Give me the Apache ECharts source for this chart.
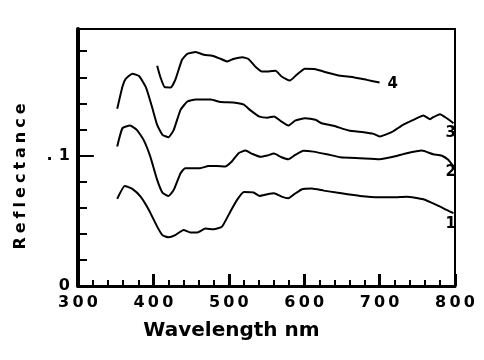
<!DOCTYPE html>
<html><head><meta charset="utf-8">
<script src="https://cdn.jsdelivr.net/npm/echarts@6/dist/echarts.min.js"></script>
<style>html,body{margin:0;padding:0;background:#fff}#c{width:484px;height:360px}</style>
</head><body><div id="c"></div>
<script>
const xTicks = [300, 400, 500, 600, 700, 800];
const curve1 = [[352,0.0668],[362,0.0767],[372,0.0744],[383,0.0685],[394,0.0583],[405,0.0455],[412,0.039],[420,0.0373],[429,0.039],[440,0.043],[449,0.041],[458,0.041],[469,0.044],[480,0.0435],[491,0.0455],[502,0.057],[511,0.066],[520,0.072],[533,0.0716],[541,0.069],[551,0.0703],[560,0.0711],[570,0.0685],[579,0.0673],[586,0.070],[597,0.0742],[610,0.0747],[626,0.0731],[643,0.0716],[674,0.069],[700,0.068],[718,0.068],[736,0.0685],[758,0.0665],[776,0.062],[789,0.0583],[798,0.0558]];
const curve2 = [[352,0.107],[359,0.121],[369,0.123],[378,0.1197],[387,0.112],[396,0.099],[405,0.0813],[412,0.0716],[420,0.069],[427,0.0737],[436,0.0864],[442,0.0903],[451,0.0903],[462,0.0903],[473,0.092],[484,0.092],[495,0.0916],[504,0.0954],[513,0.1018],[522,0.1038],[531,0.1013],[542,0.099],[551,0.100],[560,0.1015],[570,0.0987],[579,0.0972],[588,0.1005],[599,0.1036],[612,0.103],[630,0.101],[648,0.0987],[674,0.098],[700,0.0972],[718,0.099],[736,0.1018],[756,0.1038],[771,0.101],[782,0.100],[791,0.0967],[798,0.0916]];
const curve3 = [[352,0.1358],[359,0.153],[363,0.1586],[372,0.1627],[381,0.161],[390,0.1524],[398,0.1376],[405,0.1235],[412,0.1159],[420,0.114],[427,0.1197],[436,0.135],[445,0.1414],[456,0.143],[476,0.143],[489,0.141],[506,0.1407],[520,0.139],[528,0.135],[540,0.13],[551,0.129],[560,0.1299],[570,0.126],[579,0.123],[588,0.1268],[601,0.1286],[615,0.1274],[623,0.1248],[639,0.1228],[659,0.1192],[679,0.1179],[692,0.1166],[700,0.1146],[716,0.1179],[731,0.1235],[747,0.1279],[758,0.1307],[767,0.1279],[771,0.1294],[780,0.1317],[789,0.1286],[798,0.1248]];
const curve4 = [[405,0.1688],[409,0.1606],[415,0.1524],[423,0.1522],[429,0.158],[438,0.1734],[445,0.178],[456,0.1793],[467,0.1772],[478,0.1765],[489,0.1742],[498,0.1721],[506,0.174],[518,0.1754],[526,0.174],[535,0.1683],[544,0.1645],[553,0.1645],[562,0.165],[570,0.1606],[581,0.1575],[590,0.1619],[601,0.1665],[615,0.1662],[630,0.1637],[648,0.1611],[665,0.1601],[683,0.158],[700,0.156]];
const curveNames = ['1', '2', '3', '4'];
const xTitle = 'Wavelength nm';
const yTitle = 'Reflectance';
const labelOffsets = [[-16, 11], [-16, 6], [-16, 10], [0, 2]];

const TS = '\u2009';
const spaced = (s, sep) => String(s).split('').join(sep || TS);
const chart = echarts.init(document.getElementById('c'));
const curves = [curve1, curve2, curve3, curve4];
const series = curves.map((d, i) => ({
  type: 'line', name: curveNames[i], data: d, showSymbol: false, symbol: 'none',
  smooth: 0.15, lineStyle: { color: '#000', width: 2 },
  endLabel: { show: true, formatter: curveNames[i], color: '#000', fontFamily: 'DejaVu Sans', fontWeight: 'bold', fontSize: 15, offset: labelOffsets[i] },
  animation: false
}));
series[0].markLine = {
  silent: true, symbol: 'none', label: { show: false },
  lineStyle: { color: '#000', width: 2, type: 'solid' },
  data: [[{ coord: [300, 0.1] }, { coord: [321, 0.1] }]]
};
chart.setOption({
  backgroundColor: '#fff',
  animation: false,
  grid: { left: 78, right: 29, top: 29, bottom: 74, show: true, borderColor: '#000', borderWidth: 2, backgroundColor: 'transparent' },
  xAxis: {
    type: 'value', min: xTicks[0], max: xTicks[xTicks.length - 1], interval: 100,
    axisLine: { show: true, lineStyle: { color: '#000', width: 3 } },
    axisTick: { show: true, inside: true, length: 12, lineStyle: { color: '#000', width: 3 } },
    minorTick: { show: true, splitNumber: 5, length: 6, lineStyle: { color: '#000', width: 2 } },
    splitLine: { show: false },
    axisLabel: { margin: 9, color: '#000', fontFamily: 'DejaVu Sans', fontWeight: 'bold', fontSize: 16, formatter: v => spaced(v) }
  },
  yAxis: {
    type: 'value', min: 0, max: 0.197, interval: 0.02,
    axisLine: { show: true, lineStyle: { color: '#000', width: 4 } },
    axisTick: { show: true, inside: true, length: 9, lineStyle: { color: '#000', width: 2 } },
    splitLine: { show: false },
    axisLabel: { margin: 8, color: '#000', fontFamily: 'DejaVu Sans', fontWeight: 'bold', fontSize: 16,
      formatter: v => Math.abs(v) < 1e-9 ? '0' : (Math.abs(v - 0.1) < 1e-9 ? '.' + TS + TS + '1' : '') }
  },
  graphic: [
    { type: 'text', x: 231.5, y: 331, style: { text: xTitle, fill: '#000', font: 'bold 20px "DejaVu Sans"', align: 'center', verticalAlign: 'middle' } },
    { type: 'text', x: 21, y: 176.5, rotation: Math.PI / 2, style: { text: spaced(yTitle, '\u2005'), fill: '#000', font: 'bold 16px "DejaVu Sans"', align: 'center', verticalAlign: 'middle' } }
  ],
  series: series
});
</script></body></html>
